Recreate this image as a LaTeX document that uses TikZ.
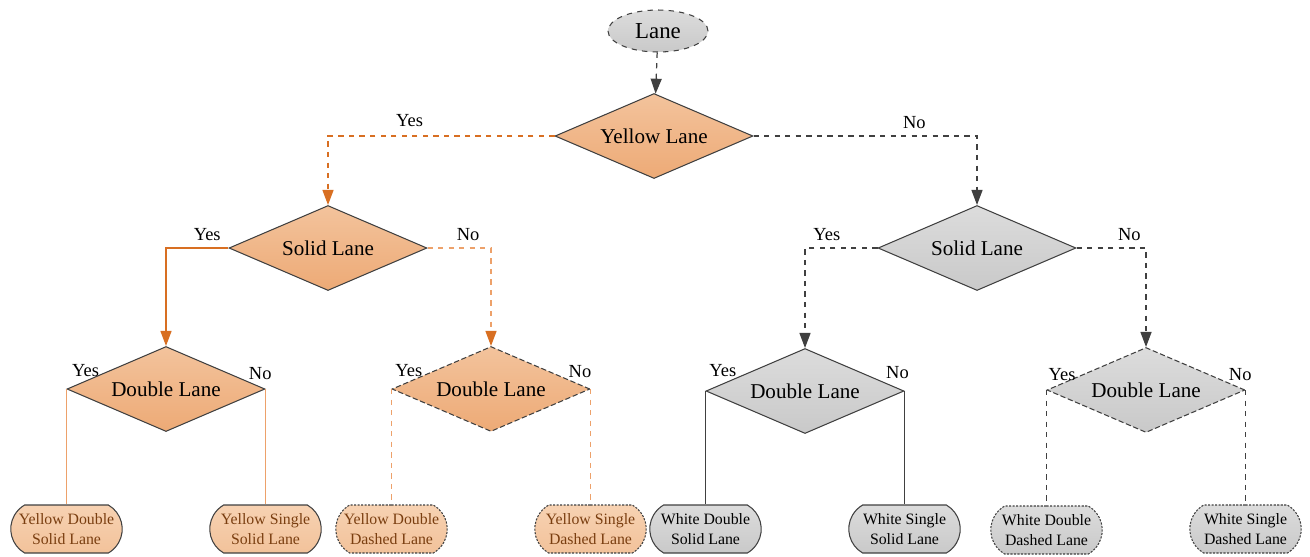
\documentclass[tikz,border=0pt]{standalone}
\usepackage{fontspec}
\setmainfont{Liberation Serif}
\usepackage{tikz}
\usetikzlibrary{
  arrows.meta,
  shapes.geometric,
  shapes.misc,
  positioning
}
\definecolor{lnOrange}{HTML}{D86F22}
\definecolor{lnOrangeLt}{HTML}{EDA16A}
\definecolor{lnDark}{HTML}{404040}
\definecolor{lnBrown}{HTML}{7A3E10}
\definecolor{lnOrTop}{HTML}{F3C39C}
\definecolor{lnOrBot}{HTML}{EDAA76}
\definecolor{lnLeafTop}{HTML}{F7D2B2}
\definecolor{lnLeafBot}{HTML}{F2C29A}
\definecolor{lnGrTop}{HTML}{DCDCDC}
\definecolor{lnGrBot}{HTML}{C9C9C9}
\tikzset{
  lnbase/.style={draw=lnDark, line width=0.6pt, align=center},
  decision/.style={
    lnbase, diamond, aspect=2.33, inner sep=1pt,
    minimum width=3.96cm, minimum height=1.7cm,
    font=\fontsize{12}{14}\selectfont
  },
  ydec/.style={decision, top color=lnOrTop, bottom color=lnOrBot},
  wdec/.style={decision, top color=lnGrTop, bottom color=lnGrBot},
  leaf/.style={
    lnbase, rounded rectangle, rounded rectangle arc length=120,
    minimum width=2.3cm, minimum height=0.96cm, inner sep=1pt,
    font=\fontsize{9}{11}\selectfont
  },
  yleaf/.style={leaf, top color=lnLeafTop, bottom color=lnLeafBot, text=lnBrown},
  wleaf/.style={leaf, top color=lnGrTop, bottom color=lnGrBot},
  dashborder/.style={dash pattern=on 3pt off 1.5pt},
  dotborder/.style={dash pattern=on 1.2pt off 0.8pt},
  lbl/.style={font=\fontsize{10.5}{12}\selectfont, inner sep=1pt, text=black},
  ylink/.style={-{Triangle[length=3mm, width=2.2mm, color=lnOrange]}, lnOrange, line width=0.7pt},
  dlink/.style={-{Triangle[length=3mm, width=2.2mm]}, lnDark, line width=0.7pt, dashed},
  leafline/.style={line width=0.5pt}
}
\begin{document}
\begin{tikzpicture}[x=0.02cm, y=-0.02cm]
  \useasboundingbox (0,0) rectangle (1310,556);

  % root and first decision
  \node[lnbase, ellipse, dashed, minimum width=2cm, minimum height=0.84cm,
        top color=lnGrTop, bottom color=lnGrBot, font=\fontsize{13}{15}\selectfont] (lane) at (658,31) {Lane};
  \node[ydec] (yellow) at (654,136) {Yellow Lane};

  % second level
  \node[ydec] (ysolid) at (328,248) {Solid Lane};
  \node[wdec] (wsolid) at (977,248) {Solid Lane};

  % third level
  \node[ydec] (ysdbl) at (166,389) {Double Lane};
  \node[ydec, dashborder] (yddbl) at (491,389) {Double Lane};
  \node[wdec] (wsdbl) at (805,391) {Double Lane};
  \node[wdec, dashborder] (wddbl) at (1146,390) {Double Lane};

  % leaves
  \node[yleaf] (ydsl) at (ysdbl.west |- 0,529) {Yellow Double\\Solid Lane};
  \node[yleaf] (yssl) at (ysdbl.east |- 0,529) {Yellow Single\\Solid Lane};
  \node[yleaf, dotborder] (yddl) at (yddbl.west |- 0,529) {Yellow Double\\Dashed Lane};
  \node[yleaf, dotborder] (ysdl) at (yddbl.east |- 0,529) {Yellow Single\\Dashed Lane};
  \node[wleaf] (wdsl) at (wsdbl.west |- 0,529) {White Double\\Solid Lane};
  \node[wleaf] (wssl) at (wsdbl.east |- 0,529) {White Single\\Solid Lane};
  \node[wleaf, dotborder] (wddl) at (wddbl.west |- 0,530) {White Double\\Dashed Lane};
  \node[wleaf, dotborder] (wsdl) at (wddbl.east |- 0,529) {White Single\\Dashed Lane};

  % arrows between decisions
  \draw[dlink] (lane) -- (yellow);
  \draw[ylink, dashed] (yellow.west) -| node[lbl, pos=0.32, above=4pt] {Yes} (ysolid.north);
  \draw[dlink] (yellow.east) -| node[lbl, pos=0.36, above=3pt] {No} (wsolid.north);
  \draw[ylink] (ysolid.west) -| node[lbl, pos=0.17, above=3pt] {Yes} (ysdbl.north);
  \draw[ylink, draw=lnOrangeLt, dashed] (ysolid.east) -| node[lbl, pos=0.32, above=3pt] {No} (yddbl.north);
  \draw[dlink] (wsolid.west) -| node[lbl, pos=0.35, above=3pt] {Yes} (wsdbl.north);
  \draw[dlink] (wsolid.east) -| node[lbl, pos=0.38, above=3pt] {No} (wddbl.north);

  % lines to leaves
  \draw[leafline, lnOrangeLt] (ysdbl.west) -- node[lbl, pos=0, anchor=south west, xshift=2pt, yshift=6pt] {Yes} (ydsl.north);
  \draw[leafline, lnOrangeLt] (ysdbl.east) -- node[lbl, pos=0, anchor=south, xshift=-3pt, yshift=4pt] {No} (yssl.north);
  \draw[leafline, lnOrangeLt, dashed] (yddbl.west) -- node[lbl, pos=0, anchor=south west, xshift=1pt, yshift=6pt] {Yes} (yddl.north);
  \draw[leafline, lnOrangeLt, dashed] (yddbl.east) -- node[lbl, pos=0, anchor=south, xshift=-6pt, yshift=5pt] {No} (ysdl.north);
  \draw[leafline, lnDark] (wsdbl.west) -- node[lbl, pos=0, anchor=south west, xshift=1pt, yshift=7pt] {Yes} (wdsl.north);
  \draw[leafline, lnDark] (wsdbl.east) -- node[lbl, pos=0, anchor=south, xshift=-4pt, yshift=6pt] {No} (wssl.north);
  \draw[leafline, lnDark, dashed] (wddbl.west) -- node[lbl, pos=0, anchor=south west, xshift=0pt, yshift=4pt] {Yes} (wddl.north);
  \draw[leafline, lnDark, dashed] (wddbl.east) -- node[lbl, pos=0, anchor=south, xshift=-3pt, yshift=4pt] {No} (wsdl.north);
\end{tikzpicture}
\end{document}
